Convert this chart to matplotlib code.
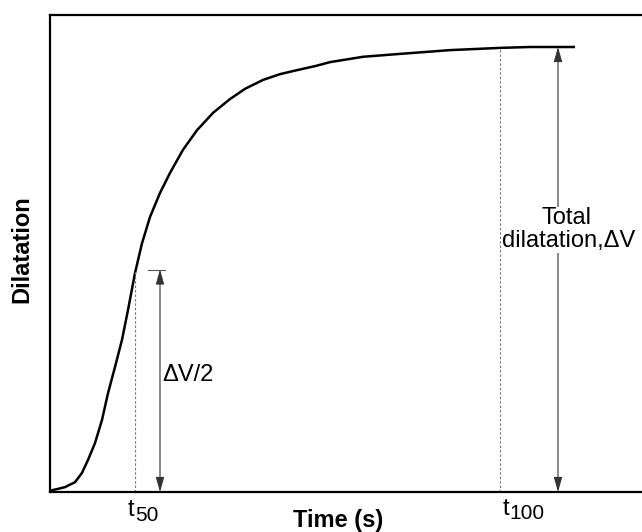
import matplotlib.pyplot as plt

plt.rcParams['font.family'] = ['Liberation Sans', 'DejaVu Sans']

# curve (time in arbitrary seconds, dilatation in % of total)
time = [0, 0.4, 1.6, 3, 5, 6.4, 7.6, 9, 10.4, 11.6, 13, 14.4, 15.6, 17, 18.4,
        20, 22, 24, 26.6, 29.4, 32.6, 36, 39, 42.6, 46, 49.4, 53, 56, 62.6,
        69.4, 80, 90, 96, 105]
dilatation = [0, 0.4, 0.7, 1.1, 2.2, 4.3, 7.2, 11.0, 16.2, 22.2, 28.1, 34.2,
              40.9, 49.2, 55.9, 61.8, 67.2, 71.7, 76.9, 81.3, 85.2, 88.3, 90.6,
              92.6, 93.9, 94.8, 95.7, 96.6, 97.8, 98.4, 99.3, 99.8, 100, 100]

t50 = 17
t100 = 90
total = 100
half = total / 2

fig = plt.figure(figsize=(6.42, 5.32), dpi=100)
ax = fig.add_axes([50 / 642, 40 / 532, 592 / 642, 477 / 532])
ax.set_xlim(0, 592 / 5)
ax.set_ylim(0, 477 / 4.45)

ax.plot(time, dilatation, color='black', lw=1.8, solid_joinstyle='round',
        solid_capstyle='butt')

# guide lines
dash = (0, (2.2, 1.8))
ax.plot([t50, t50], [0, half], color='#777777', lw=0.8, ls=dash)
ax.plot([t100, t100], [0, 99.8], color='#777777', lw=0.8, ls=dash)
ax.plot([19.6, 23.0], [half, half], color='#555555', lw=0.8)

arrow = dict(arrowstyle='<|-|>,head_length=0.6,head_width=0.17',
             mutation_scale=15, color='#333333', lw=0.8,
             shrinkA=0, shrinkB=0)
ax.annotate('', xy=(22, 0), xytext=(22, half), arrowprops=arrow)
ax.annotate('', xy=(101.6, 0), xytext=(101.6, total), arrowprops=arrow)

ax.text(22.4, 26.3, '\u0394V/2', fontsize=17, ha='left', va='center')
box = dict(facecolor='white', edgecolor='none', pad=0.5)
ax.text(103.4, 61.5, 'Total', fontsize=17, ha='center', va='center', bbox=box)
ax.text(103.8, 56.4, 'dilatation,\u0394V', fontsize=17, ha='center', va='center',
        bbox=box)

# t50 / t100 labels under the axis
ax.text(16.2, -4.0, 't', fontsize=17, ha='center', va='center', clip_on=False)
ax.text(19.4, -5.2, '50', fontsize=15, ha='center', va='center', clip_on=False)
ax.text(91.2, -3.8, 't', fontsize=17, ha='center', va='center', clip_on=False)
ax.text(95.4, -4.9, '100', fontsize=15, ha='center', va='center', clip_on=False)

fig.text(338 / 642, 1 - 520 / 532, 'Time (s)', fontsize=17, fontweight='bold',
         ha='center', va='center')
fig.text(22 / 642, 1 - 249 / 532, 'Dilatation', fontsize=17, fontweight='bold',
         ha='center', va='center', rotation=90)

ax.set_xticks([])
ax.set_yticks([])
ax.spines['right'].set_visible(False)
for side in ['left', 'bottom', 'top']:
    ax.spines[side].set_linewidth(1.6)

fig.savefig('out.png', dpi=100)
